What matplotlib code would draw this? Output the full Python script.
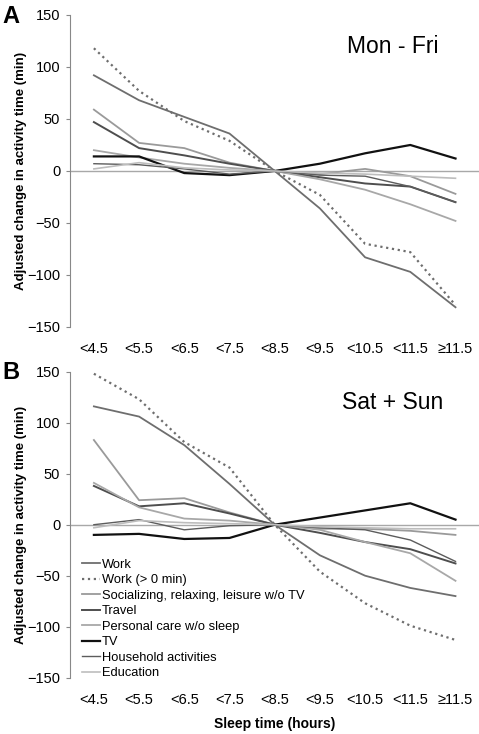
import matplotlib.pyplot as plt
import numpy as np

plt.rcParams['font.family'] = ['Liberation Sans', 'DejaVu Sans']

sleep_bins = ['<4.5', '<5.5', '<6.5', '<7.5', '<8.5', '<9.5', '<10.5', '<11.5', '≥11.5']
activities = ['Work', 'Work (> 0 min)', 'Socializing, relaxing, leisure w/o TV', 'Travel',
              'Personal care w/o sleep', 'TV', 'Household activities', 'Education']

# Mon - Fri
wd_work = [92, 68, 52, 36, 0, -36, -83, -97, -131]
wd_work_pos = [118, 77, 48, 29, 0, -23, -70, -78, -129]
wd_social = [59, 27, 22, 8, 0, -3, 2, -5, -22]
wd_travel = [47, 22, 15, 7, 0, -6, -12, -15, -30]
wd_personal = [20, 13, 7, 3, 0, -8, -18, -32, -48]
wd_tv = [14, 14, -2, -4, 0, 7, 17, 25, 12]
wd_household = [7, 6, 2, -3, 0, -4, -5, -15, -30]
wd_education = [2, 8, 3, 1, 0, -2, -3, -5, -7]

# Sat + Sun
we_work = [116, 106, 78, 40, 0, -30, -50, -62, -70]
we_work_pos = [148, 123, 81, 56, 0, -46, -77, -99, -113]
we_social = [83, 24, 26, 12, 0, -4, -4, -6, -10]
we_travel = [38, 18, 21, 11, 0, -8, -17, -24, -38]
we_personal = [41, 17, 6, 4, 0, -5, -17, -28, -55]
we_tv = [-10, -9, -14, -13, 0, 7, 14, 21, 5]
we_household = [0, 5, -5, -1, 0, -3, -5, -15, -36]
we_education = [-3, 4, 2, 1, 0, -2, -3, -4, -4]

colors = ['#6e6e6e', '#6e6e6e', '#9a9a9a', '#4e4e4e', '#a8a8a8', '#111111', '#5c5c5c', '#bdbdbd']
styles = ['-', ':', '-', '-', '-', '-', '-', '-']
widths = [1.3, 1.6, 1.3, 1.4, 1.3, 1.6, 1.0, 1.2]

fig = plt.figure(figsize=(4.79, 7.34), dpi=100)
axA = fig.add_axes([0.146, 0.5545, 0.854, 0.4251])
axB = fig.add_axes([0.146, 0.0767, 0.854, 0.4169])

x = np.arange(len(sleep_bins))
panels = [
    (axA, [wd_work, wd_work_pos, wd_social, wd_travel, wd_personal, wd_tv, wd_household, wd_education], 'Mon - Fri', 'A'),
    (axB, [we_work, we_work_pos, we_social, we_travel, we_personal, we_tv, we_household, we_education], 'Sat + Sun', 'B'),
]

for ax, series, title, letter in panels:
    ax.axhline(0, color='#a8a8a8', lw=1.0, zorder=1)
    for vals, name, c, ls, lw in zip(series, activities, colors, styles, widths):
        ax.plot(x, vals, color=c, ls=ls, lw=lw, label=name, zorder=2)
    ax.set_xlim(-0.53, 8.52)
    ax.set_ylim(-150, 150)
    ax.set_yticks([150, 100, 50, 0, -50, -100, -150])
    ax.set_xticks(x)
    ax.set_xticklabels(sleep_bins, fontsize=10.5)
    ax.tick_params(axis='x', length=0, pad=11)
    ax.tick_params(axis='y', labelsize=10.5, length=3, pad=4, color='#888888', direction='out')
    for s in ['top', 'right', 'bottom']:
        ax.spines[s].set_visible(False)
    ax.spines['left'].set_color('#888888')
    ax.set_ylabel('Adjusted change in activity time (min)', fontsize=9.5, fontweight='bold')
    ax.yaxis.set_label_coords(-0.105, 0.5)
    ax.text(0.79, 0.9, title, transform=ax.transAxes, fontsize=16.5, ha='center', va='center')
    fig.text(0.005, ax.get_position().y1 + 0.014, letter, fontsize=17, fontweight='bold', ha='left', va='top')

axB.set_xlabel('Sleep time (hours)', fontsize=10, fontweight='bold', labelpad=7)
axB.legend(loc='lower left', bbox_to_anchor=(0.03, -0.005), frameon=False, fontsize=9.3,
           handlelength=1.37, handletextpad=0.15, labelspacing=0.27, borderpad=0, borderaxespad=0)

fig.savefig('out.png', dpi=100)
